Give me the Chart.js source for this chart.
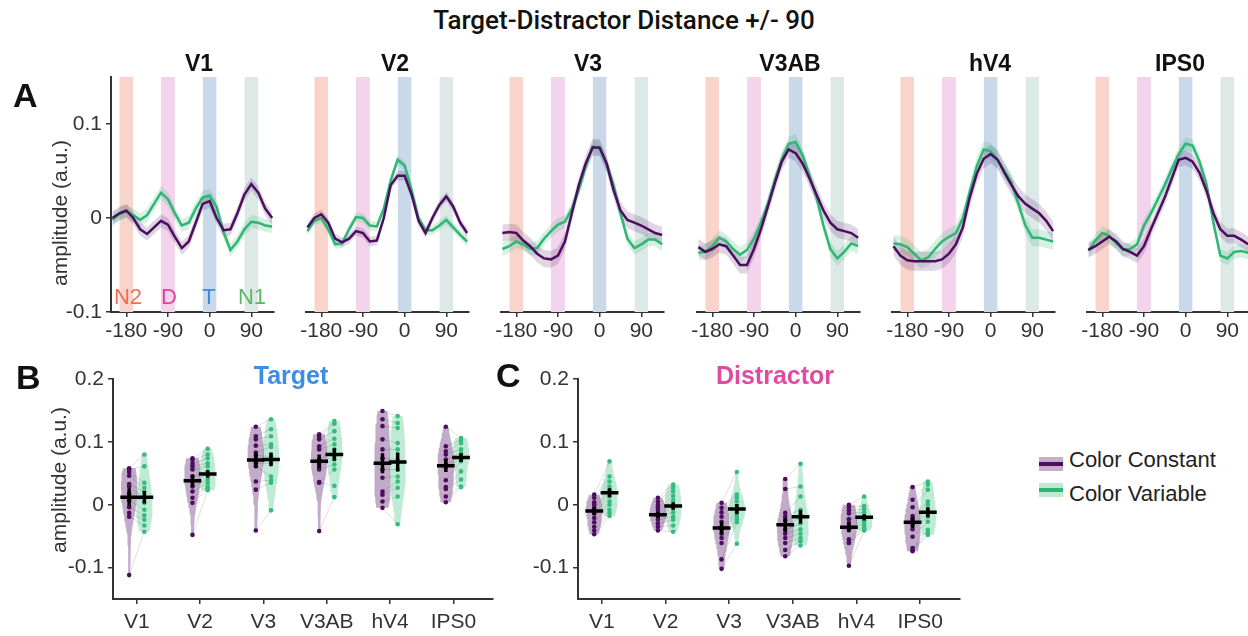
<!DOCTYPE html>
<html>
<head>
<meta charset="utf-8">
<script src="https://cdn.jsdelivr.net/npm/chart.js@4.4.1/dist/chart.umd.min.js"></script>
<style>
  html, body { margin: 0; padding: 0; width: 1248px; height: 636px; overflow: hidden; background: #fff; }
  body { position: relative; font-family: "Liberation Sans", Arial, sans-serif; color: #111; }
  canvas { position: absolute; z-index: 1; }
  .t { position: absolute; z-index: 2; white-space: nowrap; line-height: 1; transform: translate(-50%, -50%); }
  .rot { transform: translate(-50%, -50%) rotate(-90deg); font-size: 21px; color: #333; }
  .ttl { font-size: 23px; font-weight: bold; }
  .letter { position: absolute; z-index: 2; font-size: 34px; font-weight: bold; line-height: 1; transform: translateY(-50%); }
  .lab { font-size: 22px; }
  .sw { position: absolute; z-index: 2; width: 24px; height: 14px; }
  .sw div { position: absolute; left: 0; right: 0; top: 5px; height: 4px; }
  .leg { position: absolute; z-index: 2; font-size: 22px; line-height: 1; transform: translateY(-50%); color: #222; }
</style>
</head>
<body>
<canvas id="a0" width="299" height="285" style="left:0px;top:60px;"></canvas>
<canvas id="a1" width="213" height="285" style="left:281px;top:60px;"></canvas>
<canvas id="a2" width="213" height="285" style="left:476px;top:60px;"></canvas>
<canvas id="a3" width="213" height="285" style="left:672px;top:60px;"></canvas>
<canvas id="a4" width="213" height="285" style="left:867px;top:60px;"></canvas>
<canvas id="a5" width="213" height="285" style="left:1062px;top:60px;"></canvas>
<canvas id="b" width="503" height="276" style="left:0px;top:360px;"></canvas>
<canvas id="c" width="470" height="276" style="left:500px;top:360px;"></canvas>

<div class="t" style="left:624px;top:20px;font-size:26px;font-family:Roboto,'Liberation Sans',sans-serif;font-weight:500;">Target-Distractor Distance +/- 90</div>

<div class="letter" style="left:13px;top:95px;">A</div>
<div class="letter" style="left:16px;top:377px;">B</div>
<div class="letter" style="left:496px;top:375px;">C</div>

<div class="t ttl" style="left:199px;top:63px;">V1</div>
<div class="t ttl" style="left:395px;top:63px;">V2</div>
<div class="t ttl" style="left:588px;top:63px;">V3</div>
<div class="t ttl" style="left:790px;top:63px;">V3AB</div>
<div class="t ttl" style="left:990px;top:63px;">hV4</div>
<div class="t ttl" style="left:1180px;top:63px;">IPS0</div>

<div class="t rot" style="left:59px;top:213px;">amplitude (a.u.)</div>
<div class="t rot" style="left:58px;top:480px;">amplitude (a.u.)</div>

<div class="t lab" style="left:128px;top:297px;color:#ee6e52;">N2</div>
<div class="t lab" style="left:169px;top:297px;color:#e43fa4;">D</div>
<div class="t lab" style="left:209px;top:297px;color:#3b8be0;">T</div>
<div class="t lab" style="left:252px;top:297px;color:#5cb860;">N1</div>

<div class="t" style="left:291px;top:375px;font-size:25px;font-weight:bold;color:#3d8ce6;">Target</div>
<div class="t" style="left:775px;top:375px;font-size:25px;font-weight:bold;color:#e24aa2;">Distractor</div>

<div class="sw" style="left:1039px;top:457px;background:#c6aecb;"><div style="background:#4b0e5e;"></div></div>
<div class="leg" style="left:1069px;top:460px;">Color Constant</div>
<div class="sw" style="left:1039px;top:483px;background:#bfe9d3;"><div style="background:#2fb574;"></div></div>
<div class="leg" style="left:1069px;top:494px;">Color Variable</div>

<script>
// ---- panel A: response profiles ----
const angles = [-210, -195, -180, -165, -150, -135, -120, -105, -90, -75, -60, -45, -30, -15, 0, 15, 30, 45, 60, 75, 90, 105, 120, 135];
const xTicksA = [-180, -90, 0, 90];
const yTicksA = [-0.1, 0, 0.1];
const bandCenters = [-180, -90, 0, 90];

const constV1 = [0.000, 0.005, 0.008, 0.000, -0.012, -0.017, -0.010, -0.003, -0.007, -0.020, -0.032, -0.025, -0.005, 0.015, 0.018, 0.000, -0.013, -0.012, 0.005, 0.025, 0.036, 0.027, 0.010, 0.000];
const varV1 = [-0.002, 0.004, 0.007, 0.003, -0.002, 0.003, 0.015, 0.027, 0.020, 0.005, -0.008, -0.005, 0.010, 0.022, 0.024, 0.012, -0.015, -0.034, -0.025, -0.012, -0.004, -0.005, -0.008, -0.009];
const constV2 = [-0.010, 0.000, 0.004, -0.005, -0.022, -0.026, -0.022, -0.014, -0.016, -0.025, -0.024, 0.000, 0.035, 0.045, 0.045, 0.025, -0.003, -0.016, 0.000, 0.014, 0.023, 0.012, -0.005, -0.016];
const varV2 = [-0.014, -0.003, 0.000, -0.012, -0.028, -0.027, -0.012, 0.001, 0.000, -0.008, -0.009, 0.010, 0.040, 0.062, 0.056, 0.030, 0.000, -0.013, -0.013, -0.008, -0.002, -0.010, -0.018, -0.025];
const constV3 = [-0.016, -0.015, -0.016, -0.024, -0.030, -0.038, -0.043, -0.044, -0.040, -0.025, 0.005, 0.035, 0.058, 0.075, 0.075, 0.058, 0.030, 0.008, -0.002, -0.005, -0.008, -0.012, -0.016, -0.018];
const varV3 = [-0.033, -0.030, -0.025, -0.028, -0.033, -0.032, -0.022, -0.014, -0.007, -0.004, 0.010, 0.030, 0.055, 0.076, 0.074, 0.058, 0.035, 0.005, -0.022, -0.032, -0.028, -0.023, -0.023, -0.028];
const constV3AB = [-0.031, -0.036, -0.033, -0.028, -0.030, -0.040, -0.050, -0.050, -0.033, -0.012, 0.012, 0.037, 0.060, 0.073, 0.069, 0.058, 0.042, 0.025, 0.008, -0.005, -0.012, -0.014, -0.016, -0.021];
const varV3AB = [-0.037, -0.036, -0.030, -0.021, -0.025, -0.033, -0.039, -0.034, -0.022, -0.005, 0.015, 0.040, 0.062, 0.079, 0.081, 0.067, 0.045, 0.022, -0.008, -0.033, -0.043, -0.036, -0.027, -0.030];
const constHV4 = [-0.030, -0.040, -0.045, -0.046, -0.046, -0.046, -0.046, -0.044, -0.038, -0.028, -0.010, 0.022, 0.047, 0.063, 0.068, 0.062, 0.048, 0.035, 0.023, 0.015, 0.010, 0.005, -0.003, -0.014];
const varHV4 = [-0.027, -0.028, -0.031, -0.038, -0.045, -0.042, -0.033, -0.025, -0.020, -0.016, 0.000, 0.028, 0.055, 0.073, 0.071, 0.062, 0.050, 0.038, 0.015, -0.008, -0.021, -0.021, -0.023, -0.025];
const constIPS0 = [-0.034, -0.030, -0.025, -0.020, -0.025, -0.033, -0.036, -0.040, -0.030, -0.012, 0.005, 0.022, 0.042, 0.062, 0.064, 0.060, 0.048, 0.029, 0.005, -0.012, -0.019, -0.019, -0.023, -0.028];
const varIPS0 = [-0.035, -0.024, -0.016, -0.019, -0.027, -0.034, -0.033, -0.028, -0.008, 0.005, 0.020, 0.035, 0.052, 0.068, 0.079, 0.077, 0.060, 0.036, -0.005, -0.040, -0.043, -0.036, -0.035, -0.037];
const semConstA = [0.007, 0.005, 0.009, 0.009, 0.010, 0.008];
const semVarA = [0.007, 0.005, 0.007, 0.008, 0.009, 0.007];

// ---- panels B and C: per-subject amplitudes ----
const regions = ['V1', 'V2', 'V3', 'V3AB', 'hV4', 'IPS0'];
const yTicksBC = [-0.1, 0, 0.1, 0.2];

const targetConst = [
  [0.058, 0.056, 0.052, 0.046, 0.033, 0.029, 0.018, 0.007, -0.004, -0.013, -0.019, -0.112],
  [0.074, 0.071, 0.065, 0.061, 0.056, 0.045, 0.037, 0.029, 0.021, 0.011, 0.003, -0.048],
  [0.124, 0.109, 0.104, 0.094, 0.083, 0.078, 0.072, 0.066, 0.061, 0.037, 0.024, -0.041],
  [0.112, 0.108, 0.104, 0.093, 0.088, 0.072, 0.065, 0.060, 0.056, 0.036, 0.035, -0.042],
  [0.149, 0.136, 0.125, 0.104, 0.088, 0.074, 0.056, 0.043, 0.021, 0.016, 0.005, -0.005],
  [0.124, 0.093, 0.085, 0.080, 0.072, 0.064, 0.060, 0.039, 0.028, 0.025, 0.013, 0.004]
];
const targetVar = [
  [0.080, 0.061, 0.035, 0.027, 0.021, 0.011, 0.003, -0.008, -0.017, -0.024, -0.033, -0.043],
  [0.089, 0.080, 0.074, 0.066, 0.061, 0.053, 0.048, 0.040, 0.035, 0.029, 0.025, 0.023],
  [0.136, 0.120, 0.109, 0.096, 0.092, 0.077, 0.072, 0.066, 0.045, 0.039, 0.035, -0.009],
  [0.133, 0.129, 0.117, 0.105, 0.096, 0.088, 0.078, 0.072, 0.064, 0.056, 0.030, 0.012],
  [0.141, 0.130, 0.122, 0.098, 0.088, 0.072, 0.056, 0.045, 0.037, 0.027, 0.013, -0.031],
  [0.106, 0.103, 0.098, 0.088, 0.082, 0.076, 0.072, 0.069, 0.053, 0.040, 0.029, 0.028]
];
const targetMeanConst = [0.012, 0.038, 0.071, 0.069, 0.066, 0.062];
const targetMeanVar = [0.012, 0.049, 0.072, 0.080, 0.068, 0.075];
const targetSemConst = [0.014, 0.010, 0.012, 0.011, 0.016, 0.010];
const targetSemVar = [0.010, 0.006, 0.011, 0.010, 0.015, 0.007];

const distConst = [
  [0.016, 0.011, 0.004, 0.000, -0.005, -0.008, -0.014, -0.021, -0.028, -0.035, -0.041, -0.047],
  [0.011, 0.005, 0.000, -0.004, -0.008, -0.013, -0.016, -0.019, -0.024, -0.030, -0.035, -0.041],
  [0.003, -0.005, -0.012, -0.019, -0.027, -0.035, -0.040, -0.046, -0.053, -0.061, -0.087, -0.102],
  [0.041, 0.025, -0.013, -0.019, -0.025, -0.032, -0.040, -0.046, -0.053, -0.061, -0.072, -0.082],
  [0.000, -0.004, -0.009, -0.014, -0.023, -0.029, -0.035, -0.039, -0.055, -0.060, -0.061, -0.097],
  [0.028, 0.008, -0.004, -0.018, -0.023, -0.028, -0.032, -0.039, -0.051, -0.069, -0.072, -0.074]
];
const distVar = [
  [0.069, 0.045, 0.037, 0.029, 0.024, 0.020, 0.013, 0.005, 0.000, -0.008, -0.013, -0.018],
  [0.032, 0.027, 0.021, 0.014, 0.007, 0.000, -0.005, -0.012, -0.019, -0.024, -0.033, -0.043],
  [0.052, 0.016, 0.011, 0.005, -0.002, -0.007, -0.011, -0.013, -0.019, -0.023, -0.028, -0.062],
  [0.065, 0.029, 0.013, -0.008, -0.016, -0.021, -0.030, -0.039, -0.046, -0.053, -0.058, -0.065],
  [0.013, -0.002, -0.007, -0.012, -0.018, -0.021, -0.025, -0.029, -0.033, -0.037, -0.040, -0.041],
  [0.037, 0.032, 0.024, 0.005, 0.000, -0.008, -0.013, -0.019, -0.027, -0.040, -0.045, -0.048]
];
const distMeanConst = [-0.010, -0.016, -0.037, -0.032, -0.036, -0.028];
const distMeanVar = [0.019, -0.002, -0.007, -0.019, -0.020, -0.012];
const distSemConst = [0.006, 0.005, 0.010, 0.011, 0.008, 0.009];
const distSemVar = [0.007, 0.006, 0.008, 0.011, 0.005, 0.008];

// ---- styles ----
const purple = '#4b0e5e';
const green = '#2fb574';
const purpleShade = 'rgba(95, 45, 115, 0.2)';
const greenShade = 'rgba(50, 185, 120, 0.2)';
const purpleViolin = 'rgba(110, 55, 125, 0.42)';
const greenViolin = 'rgba(55, 190, 125, 0.32)';
const bandColors = ['#f8d4ca', '#f3d4ec', '#c9d9ea', '#dde9e7'];
const bandHalf = 15;
const violinOffset = 0.12;
const violinHalfWidth = 0.13;
const crossHalf = 0.14;

Chart.defaults.font.family = '"Liberation Sans", Arial, sans-serif';
Chart.defaults.color = '#333';
Chart.defaults.animation = false;
Chart.defaults.plugins.legend.display = false;
Chart.defaults.plugins.tooltip.enabled = false;

const tickFont = { size: 21 };
const axisLook = {
  border: { display: true, color: '#333', width: 2 },
  grid: { display: true, drawOnChartArea: false, drawTicks: true, tickLength: 5, color: '#333', lineWidth: 1.5 }
};
const fmt = v => (v === 0 ? '0' : String(v));

const constSeries = [constV1, constV2, constV3, constV3AB, constHV4, constIPS0];
const varSeries = [varV1, varV2, varV3, varV3AB, varHV4, varIPS0];

function profileChart(i) {
  const ds = [];
  bandCenters.forEach((c, k) => ds.push({
    data: [{ x: c - bandHalf, y: 0.15 }, { x: c + bandHalf, y: 0.15 }],
    borderWidth: 0, pointRadius: 0, fill: 'start', backgroundColor: bandColors[k], order: 6
  }));
  [[constSeries[i], semConstA[i], purpleShade], [varSeries[i], semVarA[i], greenShade]].forEach(([vals, sem, shade]) => {
    ds.push({ data: angles.map((a, j) => ({ x: a, y: vals[j] + sem })), borderWidth: 0, pointRadius: 0, fill: false, order: 4 });
    ds.push({ data: angles.map((a, j) => ({ x: a, y: vals[j] - sem })), borderWidth: 0, pointRadius: 0, fill: '-1', backgroundColor: shade, order: 4 });
  });
  ds.push({ data: angles.map((a, j) => ({ x: a, y: varSeries[i][j] })), borderColor: green, borderWidth: 2.5, pointRadius: 0, fill: false, order: 2 });
  ds.push({ data: angles.map((a, j) => ({ x: a, y: constSeries[i][j] })), borderColor: purple, borderWidth: 2.5, pointRadius: 0, fill: false, order: 1 });

  new Chart(document.getElementById('a' + i), {
    type: 'line',
    data: { datasets: ds },
    options: {
      responsive: false,
      devicePixelRatio: 1,
      layout: { padding: { top: 17, right: 25, bottom: 0, left: i === 0 ? 0 : 25 } },
      scales: {
        x: {
          type: 'linear', min: -213, max: 139,
          afterBuildTicks: s => { s.ticks = xTicksA.map(v => ({ value: v })); },
          afterFit: s => { s.height = 33; },
          ticks: { font: tickFont, padding: 2, autoSkip: false, maxRotation: 0, callback: fmt },
          ...axisLook
        },
        y: {
          display: i === 0, min: -0.1, max: 0.15,
          afterBuildTicks: s => { s.ticks = yTicksA.map(v => ({ value: v })); },
          afterFit: s => { s.width = i === 0 ? 111 : 0; },
          ticks: { font: tickFont, padding: 4, callback: fmt },
          ...axisLook
        }
      }
    }
  });
}

function violinOutline(vals, center) {
  const n = vals.length;
  const mean = vals.reduce((a, b) => a + b, 0) / n;
  const sd = Math.sqrt(vals.reduce((a, b) => a + (b - mean) ** 2, 0) / (n - 1));
  const bw = 1.06 * sd * Math.pow(n, -0.2);
  const lo = Math.min(...vals), hi = Math.max(...vals);
  const ys = [], dens = [];
  for (let k = 0; k <= 40; k++) {
    const y = lo + (hi - lo) * k / 40;
    ys.push(y);
    dens.push(vals.reduce((s, v) => s + Math.exp(-0.5 * ((y - v) / bw) ** 2), 0));
  }
  const dmax = Math.max(...dens);
  const left = ys.map((y, k) => ({ x: center - violinHalfWidth * dens[k] / dmax, y }));
  const right = ys.map((y, k) => ({ x: center + violinHalfWidth * dens[k] / dmax, y })).reverse();
  return left.concat(right);
}

function subjectChart(id, constVals, varVals, meanC, meanV, semC, semV, yAxisWidth) {
  const ds = [];
  const pairs = [];
  const cross = [];
  regions.forEach((r, i) => {
    const c = i + 1;
    ds.push({ data: violinOutline(constVals[i], c - violinOffset), borderWidth: 0, pointRadius: 0, fill: 'shape', backgroundColor: purpleViolin, order: 5 });
    ds.push({ data: violinOutline(varVals[i], c + violinOffset), borderWidth: 0, pointRadius: 0, fill: 'shape', backgroundColor: greenViolin, order: 5 });
    constVals[i].forEach((v, k) => {
      pairs.push({ x: c - violinOffset, y: v }, { x: c + violinOffset, y: varVals[i][k] }, { x: c, y: null });
    });
    [[c - violinOffset, meanC[i], semC[i]], [c + violinOffset, meanV[i], semV[i]]].forEach(([x, m, s]) => {
      cross.push({ x: x - crossHalf, y: m }, { x: x + crossHalf, y: m }, { x: x, y: null });
      cross.push({ x: x, y: m - s }, { x: x, y: m + s }, { x: x, y: null });
    });
    ds.push({ data: constVals[i].map(v => ({ x: c - violinOffset, y: v })), showLine: false, pointRadius: 2.3, pointBorderWidth: 0, pointBackgroundColor: purple, order: 3 });
    ds.push({ data: varVals[i].map(v => ({ x: c + violinOffset, y: v })), showLine: false, pointRadius: 2.3, pointBorderWidth: 0, pointBackgroundColor: '#36bb7c', order: 3 });
  });
  ds.push({ data: pairs, borderColor: 'rgba(0,0,0,0.13)', borderWidth: 1, pointRadius: 0, fill: false, spanGaps: false, order: 4 });
  ds.push({ data: cross, borderColor: '#000', borderWidth: 3.5, pointRadius: 0, fill: false, spanGaps: false, order: 1 });

  new Chart(document.getElementById(id), {
    type: 'line',
    data: { datasets: ds },
    options: {
      responsive: false,
      devicePixelRatio: 1,
      layout: { padding: { top: 19, right: 10, bottom: 0, left: 0 } },
      scales: {
        x: {
          type: 'linear', min: 0.625, max: 6.625,
          afterBuildTicks: s => { s.ticks = regions.map((r, i) => ({ value: i + 1 })); },
          afterFit: s => { s.height = 37; },
          ticks: { font: tickFont, padding: 6, autoSkip: false, maxRotation: 0, callback: v => regions[Math.round(v) - 1] },
          ...axisLook
        },
        y: {
          min: -0.15, max: 0.2,
          afterBuildTicks: s => { s.ticks = yTicksBC.map(v => ({ value: v })); },
          afterFit: s => { s.width = yAxisWidth; },
          ticks: { font: tickFont, padding: 4, callback: fmt },
          ...axisLook
        }
      }
    }
  });
}

for (let i = 0; i < 6; i++) profileChart(i);
subjectChart('b', targetConst, targetVar, targetMeanConst, targetMeanVar, targetSemConst, targetSemVar, 113);
subjectChart('c', distConst, distVar, distMeanConst, distMeanVar, distSemConst, distSemVar, 78);
</script>
</body>
</html>
